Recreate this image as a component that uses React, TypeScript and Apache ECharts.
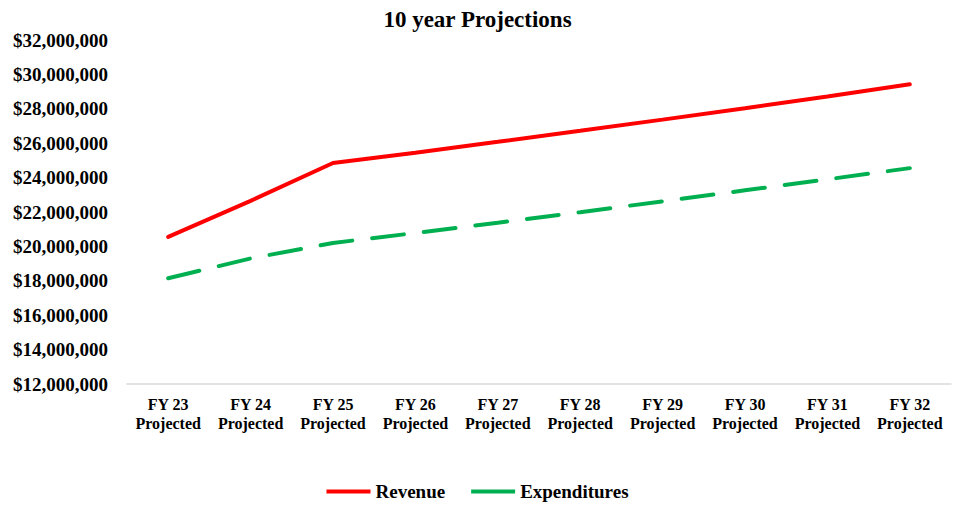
import React, { useEffect, useRef } from "react";
import * as echarts from "echarts";

const categories = ["FY 23\nProjected", "FY 24\nProjected", "FY 25\nProjected", "FY 26\nProjected", "FY 27\nProjected", "FY 28\nProjected", "FY 29\nProjected", "FY 30\nProjected", "FY 31\nProjected", "FY 32\nProjected"];
const revenue = [20550000, 22650000, 24850000, 25450000, 26080000, 26720000, 27370000, 28030000, 28720000, 29430000];
const expenditures = [18150000, 19300000, 20200000, 20780000, 21380000, 21990000, 22620000, 23260000, 23900000, 24550000];

const fontFamily = '"Liberation Serif", "Times New Roman", serif';

export default function App() {
  const ref = useRef<HTMLDivElement>(null);
  useEffect(() => {
    document.body.style.margin = "0";
    const chart = echarts.init(ref.current!, null, { renderer: "svg" });
    chart.setOption({
      animation: false,
      title: {
        text: "10 year Projections",
        left: "center",
        top: 3,
        textStyle: { fontFamily, fontWeight: "bold", fontSize: 23, color: "#000" },
      },
      legend: {
        bottom: 1,
        left: "center",
        itemWidth: 44,
        itemHeight: 4,
        itemGap: 26,
        icon: "rect",
        textStyle: { fontFamily, fontWeight: "bold", fontSize: 19, color: "#000" },
        data: [
          { name: "Revenue", icon: "rect" },
          { name: "Expenditures", icon: "rect" },
        ],
      },
      grid: { left: 127, right: 4, top: 40, bottom: 123 },
      xAxis: {
        type: "category",
        data: categories,
        boundaryGap: true,
        axisLine: { lineStyle: { color: "#d9d9d9", width: 1.5 } },
        axisTick: { show: false },
        axisLabel: { fontFamily, fontWeight: "bold", fontSize: 16, color: "#000", margin: 11, lineHeight: 19, interval: 0 },
      },
      yAxis: {
        type: "value",
        min: 12000000,
        max: 32000000,
        interval: 2000000,
        splitLine: { show: false },
        axisLine: { show: false },
        axisTick: { show: false },
        axisLabel: {
          fontFamily,
          fontWeight: "bold",
          fontSize: 19,
          color: "#000",
          margin: 19,
          formatter: (v: number) => "$" + v.toLocaleString("en-US"),
        },
      },
      series: [
        {
          name: "Revenue",
          type: "line",
          data: revenue,
          showSymbol: false,
          symbol: "none",
          itemStyle: { color: "#FF0000" },
          lineStyle: { color: "#FF0000", width: 4, cap: "round" },
        },
        {
          name: "Expenditures",
          type: "line",
          data: expenditures,
          showSymbol: false,
          symbol: "none",
          itemStyle: { color: "#00B050" },
          lineStyle: { color: "#00B050", width: 4, type: [32, 20], cap: "round" },
        },
      ],
    });
    return () => chart.dispose();
  }, []);
  return <div ref={ref} style={{ width: 955, height: 507 }} />;
}
